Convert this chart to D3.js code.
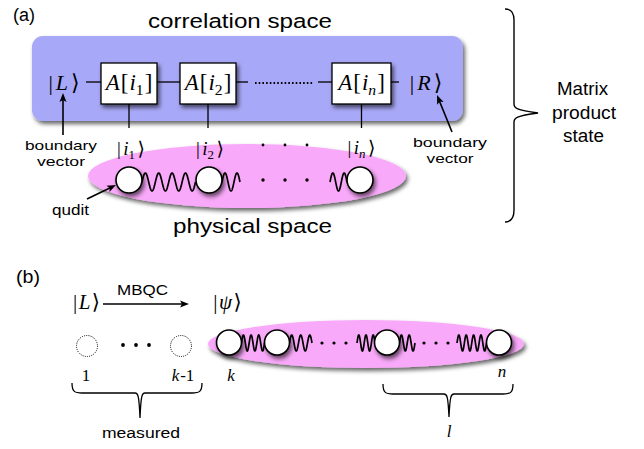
<!DOCTYPE html>
<html><head><meta charset="utf-8">
<script src="https://cdn.jsdelivr.net/npm/d3@7"></script>
<style>body{margin:0;background:#fff}svg{display:block}</style>
</head><body>
<script>
// ---- data (labels) ----
const panelLabels = ["(a)", "(b)"];
const spaceTitles = ["correlation space", "physical space"];
const tensorSubs = ["1", "2", "n"];
const physSubs = ["1", "2", "n"];
const boundaryText = ["boundary", "vector"];
const mpsText = ["Matrix", "product", "state"];
const quditText = "qudit";
const mbqcText = "MBQC";
const measuredText = "measured";
const lText = "l";

const W = 644, H = 449;
const svg = d3.select("body").append("svg").attr("width", W).attr("height", H);
const defs = svg.append("defs");
const f = defs.append("filter").attr("id","sh").attr("x","-30%").attr("y","-30%").attr("width","170%").attr("height","180%");
f.append("feDropShadow").attr("dx",2).attr("dy",3).attr("stdDeviation",2).attr("flood-color","#000").attr("flood-opacity",0.6);

const SANS = "'Liberation Sans', Arial, Helvetica, sans-serif";
const SERIF = "'Liberation Serif', 'DejaVu Serif', serif";

function fit(t, w) { if (w) t.attr("textLength", w).attr("lengthAdjust", "spacingAndGlyphs"); return t; }
function sansText(x, y, s, size, w, anchor="middle") {
  const t = svg.append("text").attr("x", x).attr("y", y).attr("font-family", SANS)
    .attr("font-size", size).attr("text-anchor", anchor).attr("fill", "#000").text(s);
  return fit(t, w);
}
// math text: parts = [{t, it, sub, dx}]
function mathText(x, y, parts, size) {
  const t = svg.append("text").attr("x", x).attr("y", y).attr("font-family", SERIF)
    .attr("font-size", size).attr("text-anchor", "middle").attr("fill", "#000");
  let shifted = 0;
  parts.forEach(p => {
    const ts = t.append("tspan").text(p.t);
    if (p.it) ts.attr("font-style", "italic");
    if (p.sub) { ts.attr("font-size", size*0.68).attr("dy", size*0.22 - shifted); shifted = size*0.22; }
    else if (shifted) { ts.attr("dy", -shifted); shifted = 0; }
    if (p.ff) ts.attr("font-family", p.ff);
    if (p.dx) ts.attr("dx", p.dx);
  });
  return t;
}
function ket(x, y, inner, size, gap) {
  const parts = [{t:"|"}, ...inner.map((p, i) => i === 0 ? {...p, dx: gap} : p),
                 {t:"\u27E9", ff:"'DejaVu Serif', serif", dx: gap}];
  return mathText(x, y, parts, size);
}

function spring(x0, x1, yc, periods, amp) {
  const n = 200, pts = [];
  for (let i = 0; i <= n; i++) {
    const u = i / n;
    pts.push([x0 + (x1 - x0) * u, yc - amp * Math.sin(2 * Math.PI * periods * u)]);
  }
  svg.append("path").attr("d", d3.line()(pts)).attr("fill", "none")
    .attr("stroke", "#000").attr("stroke-width", 1.7);
}
function line(x0, y0, x1, y1, w=1.3, dash=null) {
  const l = svg.append("line").attr("x1",x0).attr("y1",y0).attr("x2",x1).attr("y2",y1)
    .attr("stroke","#000").attr("stroke-width",w);
  if (dash) l.attr("stroke-dasharray", dash);
  return l;
}
function arrow(x0, y0, x1, y1, w=1.6, hl=9, hw=3.5) {
  const dx = x1-x0, dy = y1-y0, L = Math.hypot(dx,dy), ux = dx/L, uy = dy/L;
  line(x0, y0, x1 - ux*hl*0.7, y1 - uy*hl*0.7, w);
  const bx = x1 - ux*hl, by = y1 - uy*hl;
  svg.append("path").attr("d", `M${x1},${y1} L${bx - uy*hw},${by + ux*hw} L${bx + ux*2},${by+uy*2} L${bx + uy*hw},${by - ux*hw} Z`)
    .attr("fill","#000");
}
function dot(x, y, r=1.7) { svg.append("circle").attr("cx",x).attr("cy",y).attr("r",r).attr("fill","#000"); }
function qudit(x, y, r) {
  svg.append("circle").attr("cx",x).attr("cy",y).attr("r",r).attr("fill","#fff")
    .attr("stroke","#000").attr("stroke-width",1.6).attr("filter","url(#sh)");
}

// ===== (a) =====
sansText(24, 21, panelLabels[0], 18, 22);
sansText(240, 28, spaceTitles[0], 20.5, 184);

// correlation space box
svg.append("rect").attr("x",32).attr("y",36).attr("width",431).attr("height",85).attr("rx",11)
  .attr("fill","#a8a8f8").attr("filter","url(#sh)");

// bonds
line(86, 82, 101, 82);
line(157, 82, 180, 82);
line(236, 82, 248, 82);
line(255, 83, 313, 83, 2.2, "1.6,2.1");
line(318, 82, 332, 82);
line(391, 82, 399, 82);

// physical legs
const boxX = [101, 180, 332], boxW = [56, 56, 59];
boxX.forEach((x, i) => line(x + boxW[i]/2, 104, x + boxW[i]/2, 128));

// tensor boxes
boxX.forEach((x, i) => {
  svg.append("rect").attr("x", x).attr("y", 63).attr("width", boxW[i]).attr("height", 41)
    .attr("fill", "#fff").attr("stroke", "#000").attr("stroke-width", 1.3).attr("filter", "url(#sh)");
  mathText(x + boxW[i]/2, 90, [{t:"A",it:true},{t:"[",dx:1},{t:"i",it:true,dx:1},
    {t:tensorSubs[i],sub:true, it: tensorSubs[i]==="n"},{t:"]",dx:1}], 23);
});

ket(64, 90, [{t:"L",it:true}], 22, 3);
ket(426, 90, [{t:"R",it:true}], 22, 3);

// boundary vectors
arrow(63, 135, 63, 93);
sansText(61, 150, boundaryText[0], 13.5, 72);
sansText(61, 165.5, boundaryText[1], 13.5, 48);
arrow(452, 132, 437, 95);
sansText(450, 147, boundaryText[0], 13.5, 74);
sansText(450, 162.5, boundaryText[1], 13.5, 47);

// physical space ellipse
svg.append("ellipse").attr("cx",247).attr("cy",176).attr("rx",159).attr("ry",32)
  .attr("fill","#f9a9f9").attr("filter","url(#sh)");

// physical kets
const physX = [131, 210, 361.5];
physX.forEach((x, i) => ket(x, i === 2 ? 154 : 155, [{t:"i",it:true},{t:physSubs[i],sub:true,it: physSubs[i]==="n"}], 19, 2.5));
[263, 285, 307].forEach(x => dot(x, 145, 1.4));

spring(142, 195.5, 182, 4, 9);
spring(222, 240, 182, 1.5, 9);
spring(330, 347, 182, 1.5, 9);
[263, 285, 307].forEach(x => dot(x, 180, 1.7));
[[129,180],[209,180],[360,180]].forEach(([x,y]) => qudit(x, y, 13));

arrow(87, 199, 116, 185);
sansText(70.5, 215, quditText, 14.5, 37);
sansText(252.5, 233, spaceTitles[1], 20.5, 159);

// big right brace
svg.append("path").attr("d",
  "M505,9 C511,9 514,12 514,20 L514,104 C514,108 516,110 538,113 C516,116 514,118 514,122 L514,210 C514,218 511,222 505,222")
  .attr("fill","none").attr("stroke","#000").attr("stroke-width",1.4);
sansText(582.5, 95, mpsText[0], 17.5, 51);
sansText(584, 118.5, mpsText[1], 17.5, 64);
sansText(583.5, 142, mpsText[2], 17.5, 41);

// ===== (b) =====
sansText(28, 283, panelLabels[1], 18, 24);
ket(86.5, 309, [{t:"L",it:true}], 21, 1.5);
arrow(103, 304, 189, 304, 1.4, 9, 3.5);
sansText(142.5, 295, mbqcText, 15.5, 51);
ket(227.5, 309, [{t:"\u03C8",it:true}], 21, 1.5);

// measured sites
[[87,346],[181,346]].forEach(([x,y]) => svg.append("circle").attr("cx",x).attr("cy",y).attr("r",10.5)
  .attr("fill","none").attr("stroke","#000").attr("stroke-width",1).attr("stroke-dasharray","1,1.2"));
[123, 136, 149].forEach(x => dot(x, 345, 1.9));

// remaining chain
svg.append("ellipse").attr("cx",366).attr("cy",344).attr("rx",158).attr("ry",24)
  .attr("fill","#f9a9f9").attr("filter","url(#sh)");
spring(241.5, 264.5, 343, 3, 8);
spring(289.5, 312, 343, 2.5, 8);
[322, 334, 346].forEach(x => dot(x, 343, 1.6));
spring(357, 375, 343, 2.5, 8);
spring(399.5, 415, 343, 2, 8);
[424, 436, 448].forEach(x => dot(x, 343, 1.6));
spring(457, 486.5, 343, 4, 8);
[229, 277, 387, 499].forEach(x => qudit(x, 342.5, 12.5));

// site labels
mathText(86, 381, [{t:"1"}], 17);
mathText(183, 381, [{t:"k",it:true},{t:"-1",dx:1}], 17);
mathText(231, 381, [{t:"k",it:true}], 17);
mathText(502, 377, [{t:"n",it:true}], 17);

// bottom braces
function hbrace(x0, x1, xt, ye, yh, yt) {
  svg.append("path").attr("d",
    `M${x0},${ye} C${x0},${yh-1} ${x0+3},${yh} ${x0+10},${yh} L${xt-5},${yh} C${xt-2},${yh} ${xt-1},${yh+2} ${xt},${yt} C${xt+1},${yh+2} ${xt+2},${yh} ${xt+5},${yh} L${x1-10},${yh} C${x1-3},${yh} ${x1},${yh-1} ${x1},${ye}`)
    .attr("fill","none").attr("stroke","#000").attr("stroke-width",1.3);
}
hbrace(72, 202, 140, 383, 393, 418);
sansText(141, 438, measuredText, 15.5, 78);
hbrace(383, 513, 449, 384, 394, 417);
mathText(449, 437, [{t:lText,it:true}], 17);
</script>
</body></html>
